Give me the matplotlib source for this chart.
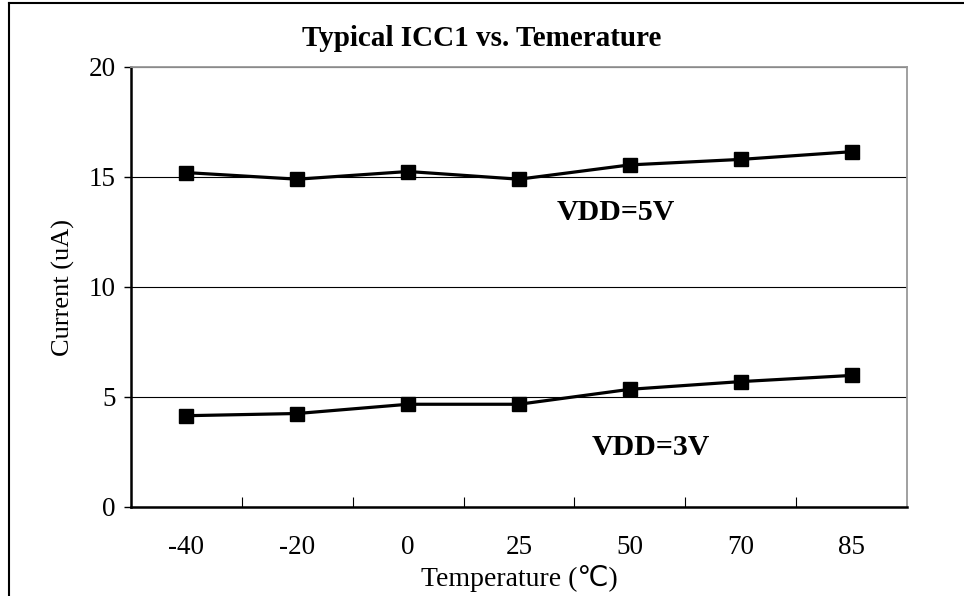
import matplotlib
matplotlib.use("Agg")
import matplotlib.pyplot as plt
from matplotlib.lines import Line2D
import numpy as np

plt.rcParams['font.family'] = ['Liberation Serif', 'DejaVu Sans']

temps = ["-40", "-20", "0", "25", "50", "70", "85"]
icc_5v = [15.2, 14.9, 15.25, 14.9, 15.55, 15.8, 16.15]
icc_3v = [4.15, 4.25, 4.67, 4.67, 5.35, 5.7, 5.98]

fig = plt.figure(figsize=(9.64, 5.96), dpi=100)
ax = fig.add_axes([131/964, 89/596, 776/964, 440/596])

x = np.arange(len(temps))
for vals in (icc_5v, icc_3v):
    ax.plot(x, vals, color="black", lw=2.3, marker="s", markersize=10.5,
            markerfacecolor="black", markeredgecolor="black", zorder=3)

ax.set_xlim(-0.5, len(temps) - 0.5)
ax.set_ylim(0, 20)
ax.set_yticks([0, 5, 10, 15, 20])
ax.set_xticks(x)
ax.set_xticklabels(temps)
ax.set_xticks(np.arange(0.5, len(temps) - 1, 1), minor=True)
ax.tick_params(axis="x", which="major", length=0, pad=20, labelsize=19.5)
ax.tick_params(axis="x", which="minor", direction="in", length=7, width=0.8)
ax.tick_params(axis="y", direction="out", length=5, width=1, labelsize=19.5, pad=6)

ax.grid(axis="y", color="black", lw=0.8)
ax.set_axisbelow(True)
for side in ("left", "bottom"):
    ax.spines[side].set_color("black")
    ax.spines[side].set_linewidth(1.8)
for side in ("top", "right"):
    ax.spines[side].set_color("#999999")
    ax.spines[side].set_linewidth(1.3)

fig.text(0.5, 1 - 38/596, "Typical ICC1 vs. Temerature", fontsize=21,
         fontweight="bold", ha="center", va="center")
ax.set_xlabel("Temperature (\u2103)", fontsize=20, labelpad=4)
ax.set_ylabel("Current (uA)", fontsize=19, labelpad=10)

ax.text(3.87, 13.4, "VDD=5V", fontsize=21.5, fontweight="bold", ha="center", va="center")
ax.text(4.19, 2.7, "VDD=3V", fontsize=21.5, fontweight="bold", ha="center", va="center")

fig.add_artist(Line2D([9/964, 1], [1 - 3/596, 1 - 3/596], color="black", lw=1.5,
                      transform=fig.transFigure))
fig.add_artist(Line2D([9/964, 9/964], [0, 1 - 3/596], color="black", lw=1.5,
                      transform=fig.transFigure))

fig.savefig("out.png", dpi=100)
